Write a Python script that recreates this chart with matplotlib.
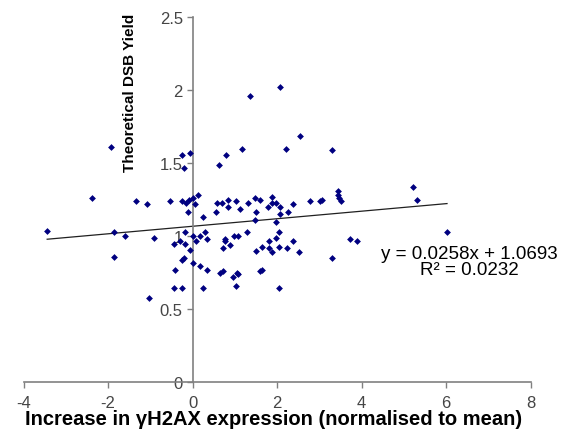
import matplotlib.pyplot as plt
import numpy as np

# данные
x_vals = [-3.44, -2.39, -1.92, -1.85, -1.86, -1.59, -1.35, -1.07, -1.03, -0.91,
          -0.54, -0.26, -0.06, -0.21, -0.26, -0.16, -0.08, 0.00, 0.13, 0.05,
          -0.10, 0.25, -0.18, -0.44, -0.30, -0.18, -0.06, 0.01, 0.07, 0.17,
          0.29, 0.35, -0.26, -0.21, -0.42, 0.00, 0.17, 0.35, -0.44, -0.26,
          0.24, 0.63, 0.80, 1.17, 1.37, 2.06, 2.22, 2.55, 3.29, 0.57,
          0.69, 0.55, 0.84, 1.02, 0.84, 1.13, 1.31, 1.47, 1.59, 1.50,
          1.47, 1.87, 1.79, 1.89, 1.97, 2.08, 2.25, 2.38, 2.06, 1.97,
          0.76, 0.76, 0.72, 0.98, 1.08, 0.88, 1.28, 1.51, 1.65, 1.81,
          1.81, 1.89, 1.97, 2.05, 2.05, 2.24, 2.38, 2.52, 0.65, 0.72,
          0.96, 1.05, 1.08, 1.59, 1.64, 1.02, 2.05, 2.79, 3.01, 3.06,
          3.29, 3.44, 3.44, 3.46, 3.50, 3.73, 3.89, 5.22, 5.31, 6.02]
y_vals = [1.04, 1.26, 1.61, 1.03, 0.86, 1.00, 1.24, 1.22, 0.58, 0.99,
          1.24, 1.56, 1.57, 1.47, 1.24, 1.23, 1.25, 1.26, 1.28, 1.22,
          1.17, 1.13, 1.03, 0.95, 0.97, 0.95, 0.91, 1.00, 0.97, 1.00,
          1.03, 0.98, 0.84, 0.85, 0.77, 0.82, 0.80, 0.77, 0.65, 0.65,
          0.65, 1.49, 1.56, 1.60, 1.96, 2.02, 1.60, 1.69, 1.59, 1.23,
          1.23, 1.17, 1.25, 1.24, 1.20, 1.19, 1.23, 1.26, 1.25, 1.17,
          1.11, 1.27, 1.20, 1.23, 1.23, 1.20, 1.17, 1.22, 1.15, 1.10,
          0.98, 0.97, 0.92, 1.00, 1.00, 0.94, 1.03, 0.90, 0.93, 0.97,
          0.92, 0.89, 0.99, 1.03, 0.93, 0.92, 0.97, 0.89, 0.75, 0.76,
          0.72, 0.75, 0.74, 0.76, 0.77, 0.66, 0.65, 1.24, 1.24, 1.25,
          0.85, 1.31, 1.28, 1.26, 1.24, 0.98, 0.97, 1.34, 1.25, 1.03]

# линия тренда (из подписи на графике)
slope = 0.0258
intercept = 1.0693
eq_text = "y = 0.0258x + 1.0693"
r2_text = "R\u00b2 = 0.0232"

plt.rcParams['font.family'] = ['Liberation Sans', 'DejaVu Sans']
plt.rcParams['axes.unicode_minus'] = False

fig = plt.figure(figsize=(5.72, 4.35), dpi=100)
ax = fig.add_axes([0.0411, 0.1184, 0.8867, 0.8397])

ax.scatter(x_vals, y_vals, marker='D', s=12, color='#000080', linewidths=0, zorder=3)

xt = np.array([min(x_vals), max(x_vals)])
ax.plot(xt, slope * xt + intercept, color='#202020', lw=0.9, zorder=2)

ax.set_xlim(-4, 8)
ax.set_ylim(0, 2.5)
ax.set_xticks([-4, -2, 0, 2, 4, 6, 8])
ax.set_yticks([0, 0.5, 1, 1.5, 2, 2.5])
ax.set_yticklabels(['0', '0.5', '1', '1.5', '2', '2.5'])

ax.spines['left'].set_position(('data', 0))
ax.spines['bottom'].set_position(('data', 0))
ax.spines['top'].set_visible(False)
ax.spines['right'].set_visible(False)
for s in ['left', 'bottom']:
    ax.spines[s].set_color('#808080')
    ax.spines[s].set_linewidth(1.2)
ax.tick_params(axis='both', direction='out', length=4, width=1, color='#808080',
               labelsize=12, labelcolor='#454545')
ax.tick_params(axis='y', pad=3)
ax.tick_params(axis='x', pad=5)

ax.text(-1.47, 1.99, "Theoretical DSB Yield", rotation=90, ha='center', va='center',
        fontsize=11, fontweight='bold')
ax.text(6.55, 0.885, eq_text, ha='center', va='center', fontsize=13.5)
ax.text(6.55, 0.775, r2_text, ha='center', va='center', fontsize=13.5)

fig.text(0.479, 0.036, "Increase in \u03b3H2AX expression (normalised to mean)",
         ha='center', va='center', fontsize=14.5, fontweight='bold')

fig.savefig('out.png', dpi=100)
